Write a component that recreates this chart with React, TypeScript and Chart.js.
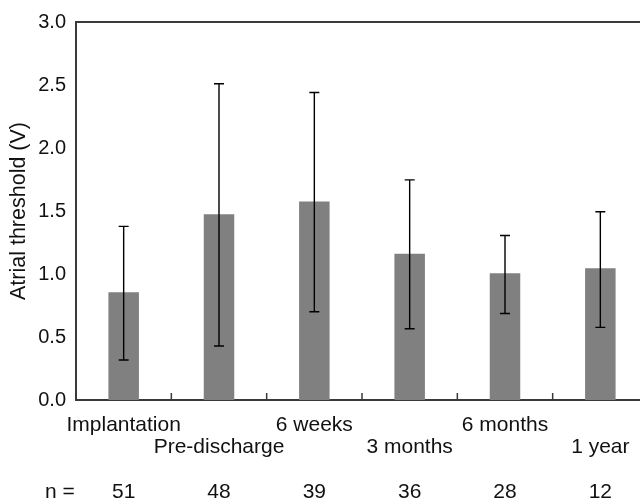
import React, { useEffect, useRef } from "react";
import { Chart, registerables } from "chart.js";

Chart.register(...registerables);

const categories = ["Implantation", "Pre-discharge", "6 weeks", "3 months", "6 months", "1 year"];
const meanValues = [0.855, 1.475, 1.576, 1.16, 1.005, 1.045];
const errLow = [0.317, 0.428, 0.7, 0.565, 0.686, 0.576];
const errHigh = [1.378, 2.51, 2.44, 1.747, 1.306, 1.494];
const nValues = ["51", "48", "39", "36", "28", "12"];
const nLabel = "n =";
const yTitle = "Atrial threshold (V)";

const FONT = "'Liberation Sans', Arial, Helvetica, sans-serif";
const TICK_SIZE = 20;
const LABEL_SIZE = 21;
const TITLE_SIZE = 21.5;
const LINE_H = 22.5;
const LABEL_PAD = 13.75;

const boxAndErrorPlugin = {
  id: "boxAndError",
  afterDatasetsDraw(chart: any) {
    const ctx = chart.ctx;
    const xs = chart.scales.x;
    const ys = chart.scales.y;
    const area = chart.chartArea;
    ctx.save();
    // error bars
    ctx.strokeStyle = "#000";
    ctx.lineWidth = 1.4;
    for (let i = 0; i < meanValues.length; i++) {
      const x = xs.getPixelForValue(i);
      const yHi = ys.getPixelForValue(errHigh[i]);
      const yLo = ys.getPixelForValue(errLow[i]);
      ctx.beginPath();
      ctx.moveTo(x, yHi);
      ctx.lineTo(x, yLo);
      ctx.moveTo(x - 5, yHi);
      ctx.lineTo(x + 5, yHi);
      ctx.moveTo(x - 5, yLo);
      ctx.lineTo(x + 5, yLo);
      ctx.stroke();
    }
    // top border
    ctx.strokeStyle = "#3a3a3a";
    ctx.lineWidth = 2;
    ctx.beginPath();
    ctx.moveTo(area.left - 1, area.top);
    ctx.lineTo(area.right, area.top);
    ctx.stroke();
    // inward ticks between categories
    ctx.lineWidth = 1.5;
    for (let i = 0; i < categories.length - 1; i++) {
      const xb = (xs.getPixelForValue(i) + xs.getPixelForValue(i + 1)) / 2;
      ctx.beginPath();
      ctx.moveTo(xb, area.bottom);
      ctx.lineTo(xb, area.bottom - 7);
      ctx.stroke();
    }
    // n = label
    ctx.fillStyle = "#111";
    ctx.font = `${LABEL_SIZE}px ${FONT}`;
    ctx.textAlign = "left";
    ctx.textBaseline = "middle";
    ctx.fillText(nLabel, 45, xs.top + LABEL_PAD + LINE_H * 3.5);
    ctx.restore();
  },
};

export default function App() {
  const canvasRef = useRef<HTMLCanvasElement | null>(null);

  useEffect(() => {
    if (!canvasRef.current) return;
    const labels = categories.map((c, i) =>
      i % 2 === 0 ? [c, "", "", nValues[i]] : ["", c, "", nValues[i]]
    );
    const chart = new Chart(canvasRef.current, {
      type: "bar",
      data: {
        labels,
        datasets: [
          {
            data: meanValues,
            backgroundColor: "#808080",
            borderWidth: 0,
            barPercentage: 0.32,
            categoryPercentage: 1,
          },
        ],
      },
      options: {
        responsive: false,
        animation: false,
        layout: { padding: { left: 0, top: 20, right: 72, bottom: 0 } },
        plugins: {
          legend: { display: false },
          tooltip: { enabled: false },
        },
        scales: {
          x: {
            offset: true,
            grid: { display: false, drawTicks: false },
            border: { display: true, color: "#3a3a3a", width: 2 },
            ticks: {
              color: "#111",
              padding: LABEL_PAD,
              maxRotation: 0,
              minRotation: 0,
              autoSkip: false,
              font: { family: FONT, size: LABEL_SIZE, lineHeight: LINE_H / LABEL_SIZE },
            },
            afterFit: (scale: any) => {
              scale.height = 102;
            },
          },
          y: {
            min: 0,
            max: 3,
            grid: { display: false, drawTicks: false },
            border: { display: true, color: "#3a3a3a", width: 2 },
            ticks: {
              stepSize: 0.5,
              color: "#111",
              padding: 10,
              font: { family: FONT, size: TICK_SIZE },
              callback: (v: any) => Number(v).toFixed(1),
            },
            title: {
              display: true,
              text: yTitle,
              color: "#111",
              font: { family: FONT, size: TITLE_SIZE },
              padding: { top: 6, bottom: 0 },
            },
            afterFit: (scale: any) => {
              scale.width = 76;
            },
          },
        },
      },
      plugins: [boxAndErrorPlugin],
    });
    return () => chart.destroy();
  }, []);

  return (
    <div
      style={{
        position: "fixed",
        left: 0,
        top: 0,
        width: 640,
        height: 502,
        overflow: "hidden",
        background: "#fff",
      }}
    >
      <canvas ref={canvasRef} width={720} height={502} style={{ display: "block" }} />
    </div>
  );
}
